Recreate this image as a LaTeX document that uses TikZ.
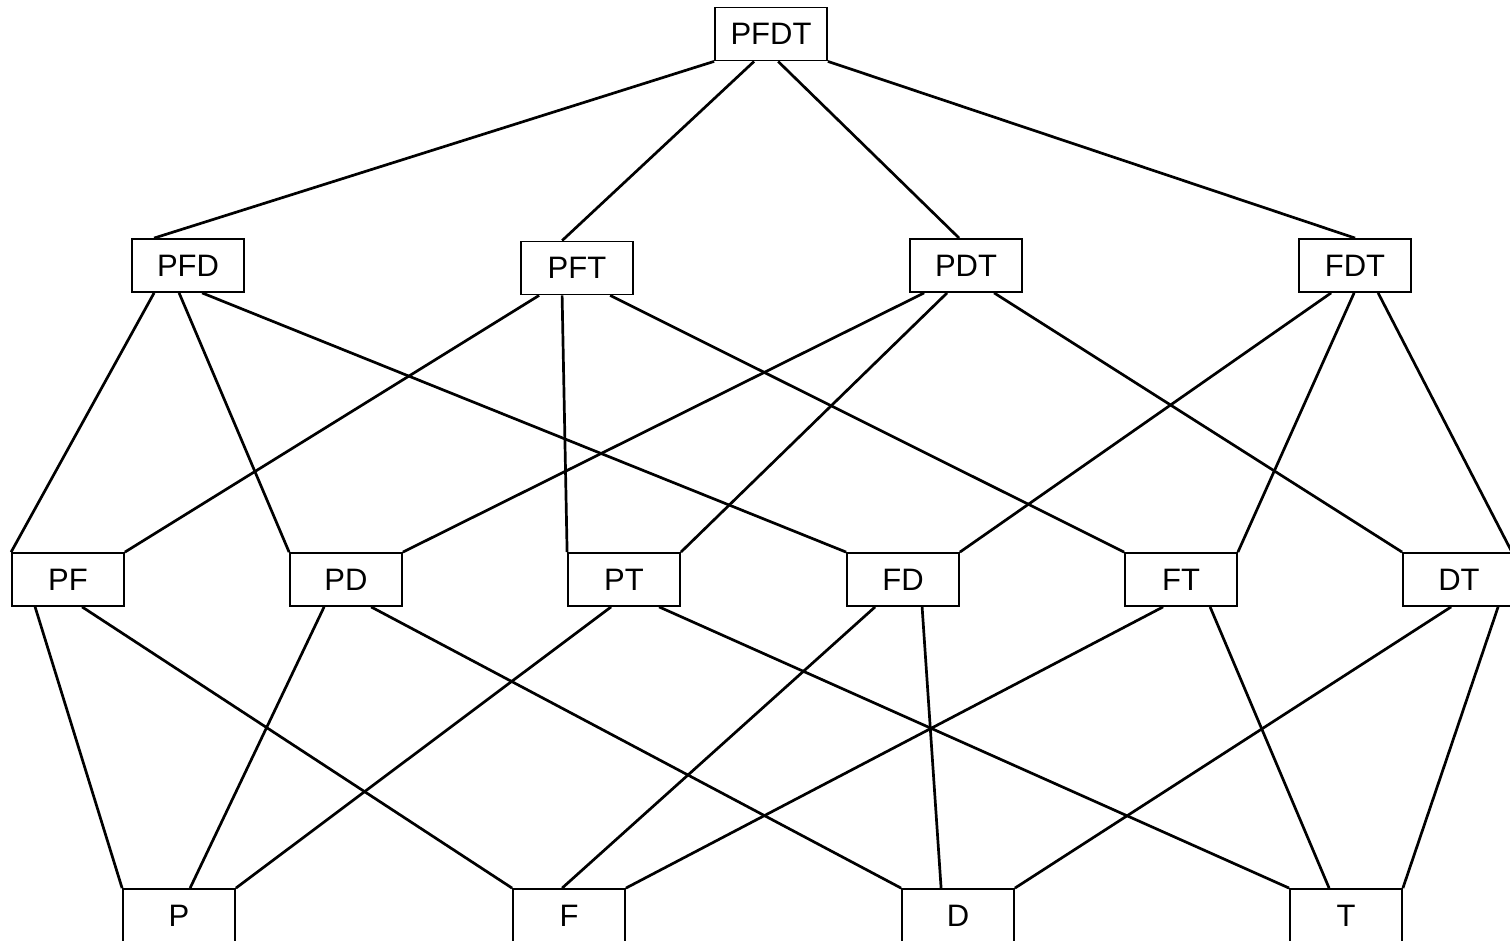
\documentclass[tikz,border=0pt]{standalone}
\usepackage{fontspec}
\setmainfont{Liberation Sans}
\begin{document}
\begin{tikzpicture}[x=1pt,y=-1pt,
  box/.style={draw,line width=1.8pt,minimum width=112pt,minimum height=53pt,inner sep=0pt,font=\fontsize{31}{37}\selectfont},
  conn/.style={line width=2.7pt}]
\useasboundingbox (0,0) rectangle (1510,941);
\fill[white] (0,0) rectangle (1510,941);
% row 1
\node[box] (PFDT) at (771,34) {PFDT};
% row 2
\node[box] (PFD) at (188,265.5) {PFD};
\node[box] (PFT) at (577,268) {PFT};
\node[box] (PDT) at (966,265.5) {PDT};
\node[box] (FDT) at (1355,265.5) {FDT};
% row 3
\node[box] (PF) at (68,579.5) {PF};
\node[box] (PD) at (346,579.5) {PD};
\node[box] (PT) at (624,579.5) {PT};
\node[box] (FD) at (903,579.5) {FD};
\node[box] (FT) at (1181,579.5) {FT};
\node[box] (DT) at (1459,579.5) {DT};
% row 4
\node[box] (P) at (179,915.5) {P};
\node[box] (F) at (569,915.5) {F};
\node[box] (D) at (958,915.5) {D};
\node[box] (T) at (1346,915.5) {T};
% row1 -> row2
\draw[conn] (PFDT.south west) -- ([xshift=23pt]PFD.north west);
\draw[conn] ([xshift=40pt]PFDT.south west) -- ([xshift=42pt]PFT.north west);
\draw[conn] ([xshift=64pt]PFDT.south west) -- ([xshift=50pt]PDT.north west);
\draw[conn] (PFDT.south east) -- ([xshift=57pt]FDT.north west);
% row2 -> row3
\draw[conn] ([xshift=23pt]PFD.south west) -- (PF.north west);
\draw[conn] ([xshift=48pt]PFD.south west) -- (PD.north west);
\draw[conn] ([xshift=71pt]PFD.south west) -- (FD.north west);
\draw[conn] ([xshift=19pt]PFT.south west) -- (PF.north east);
\draw[conn] ([xshift=42pt]PFT.south west) -- (PT.north west);
\draw[conn] ([xshift=90pt]PFT.south west) -- (FT.north west);
\draw[conn] ([xshift=15pt]PDT.south west) -- (PD.north east);
\draw[conn] ([xshift=38pt]PDT.south west) -- (PT.north east);
\draw[conn] ([xshift=85pt]PDT.south west) -- (DT.north west);
\draw[conn] ([xshift=33pt]FDT.south west) -- (FD.north east);
\draw[conn] ([xshift=56pt]FDT.south west) -- (FT.north east);
\draw[conn] ([xshift=80pt]FDT.south west) -- ([xshift=-4pt]DT.north east);
% row3 -> row4
\draw[conn] ([xshift=24pt]PF.south west) -- (P.north west);
\draw[conn] ([xshift=71pt]PF.south west) -- (F.north west);
\draw[conn] ([xshift=35pt]PD.south west) -- ([xshift=68pt]P.north west);
\draw[conn] ([xshift=82pt]PD.south west) -- (D.north west);
\draw[conn] ([xshift=44pt]PT.south west) -- (P.north east);
\draw[conn] ([xshift=92pt]PT.south west) -- (T.north west);
\draw[conn] ([xshift=29pt]FD.south west) -- ([xshift=50pt]F.north west);
\draw[conn] ([xshift=76pt]FD.south west) -- ([xshift=40pt]D.north west);
\draw[conn] ([xshift=39pt]FT.south west) -- (F.north east);
\draw[conn] ([xshift=86pt]FT.south west) -- ([xshift=40pt]T.north west);
\draw[conn] ([xshift=49pt]DT.south west) -- (D.north east);
\draw[conn] ([xshift=96pt]DT.south west) -- (T.north east);
\end{tikzpicture}
\end{document}
